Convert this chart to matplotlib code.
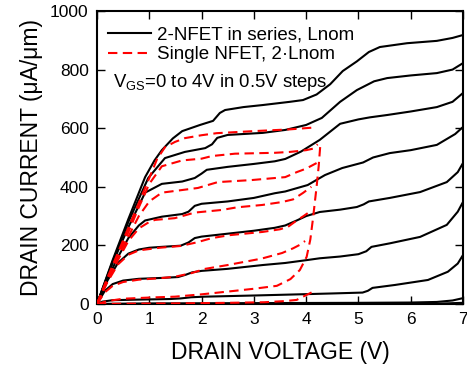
import matplotlib
matplotlib.use("Agg")
import matplotlib.pyplot as plt

plt.rcParams['font.family'] = ['Liberation Sans', 'DejaVu Sans']
plt.rcParams['mathtext.default'] = 'regular'

# ---- data: 2-NFET in series, Lnom (black solid), VGS = 0 .. 4 V ----
c0_v = [0, 6.0, 6.5, 7.0]
c0_i = [0, 0, 1, 4]
c1_v = [0, 1.0, 3.0, 5.0, 6.0, 6.5, 6.8, 7.0]
c1_i = [0, 2, 3, 4, 5, 7, 12, 20]
c2_v = [0, 0.1, 0.3, 0.8, 1.4, 1.6, 1.8, 2.05, 3.0, 3.87, 4.5, 5.08, 5.18, 5.27, 5.7, 6.33, 6.71, 6.9, 7.0]
c2_i = [0, 8, 13, 15, 17, 19, 23, 25, 29, 33, 36, 39, 45, 55, 65, 82, 110, 138, 167]
c3_v = [0, 0.15, 0.3, 0.5, 0.8, 1.24, 1.55, 1.7, 1.82, 2.0, 2.5, 3.17, 3.6, 4.02, 4.26, 4.65, 5.0, 5.15, 5.25, 5.6, 6.18, 6.69, 6.9, 7.0]
c3_i = [0, 45, 68, 80, 86, 89, 92, 100, 108, 113, 120, 133, 140, 150, 156, 162, 170, 180, 195, 207, 229, 270, 315, 348]
c4_v = [0, 0.2, 0.4, 0.6, 0.8, 1.0, 1.24, 1.6, 1.75, 1.87, 2.0, 2.5, 3.0, 3.4, 3.6, 3.82, 4.0, 4.26, 4.65, 4.97, 5.1, 5.2, 5.6, 6.18, 6.69, 6.9, 7.0]
c4_i = [0, 80, 140, 172, 186, 192, 195, 199, 210, 225, 230, 240, 250, 260, 268, 285, 300, 314, 322, 331, 340, 350, 362, 382, 416, 450, 481]
c5_v = [0, 0.2, 0.4, 0.6, 0.8, 0.92, 1.24, 1.63, 1.75, 1.87, 2.0, 2.5, 3.0, 3.4, 3.6, 4.03, 4.36, 4.69, 5.09, 5.28, 5.6, 6.0, 6.5, 6.85, 7.0]
c5_i = [0, 85, 160, 225, 268, 285, 298, 307, 315, 335, 342, 350, 362, 378, 384, 406, 440, 464, 483, 500, 515, 525, 543, 580, 604]
c6_v = [0, 0.3, 0.6, 0.92, 1.24, 1.63, 1.87, 2.0, 2.1, 2.5, 3.0, 3.4, 3.6, 3.9, 4.26, 4.65, 5.0, 5.22, 5.55, 6.0, 6.5, 6.8, 7.0]
c6_i = [0, 140, 262, 380, 410, 418, 430, 445, 458, 468, 478, 487, 495, 520, 560, 615, 630, 637, 645, 657, 672, 690, 720]
c7_v = [0, 0.3, 0.6, 0.98, 1.3, 1.68, 2.07, 2.2, 2.3, 2.5, 3.17, 3.6, 4.0, 4.3, 4.65, 4.97, 5.3, 5.55, 6.0, 6.5, 6.8, 7.0]
c7_i = [0, 145, 280, 430, 498, 519, 532, 545, 567, 577, 584, 594, 611, 635, 690, 730, 760, 771, 780, 788, 800, 822]
c8_v = [0, 0.3, 0.6, 0.92, 1.1, 1.24, 1.45, 1.63, 1.97, 2.22, 2.35, 2.45, 2.8, 3.17, 3.69, 3.94, 4.2, 4.46, 4.7, 4.97, 5.2, 5.41, 5.93, 6.5, 6.8, 7.0]
c8_i = [0, 150, 290, 433, 490, 525, 565, 590, 611, 625, 652, 662, 672, 679, 690, 696, 715, 750, 795, 828, 860, 877, 890, 898, 908, 918]

# ---- data: Single NFET, 2*Lnom (red dashed) ----
r1_v = [0, 0.5, 1.5, 2.5, 3.2, 3.6, 3.82, 3.94, 4.11]
r1_i = [0, 1, 2, 4, 6, 10, 14, 25, 40]
r2_v = [0, 0.2, 0.5, 1.0, 1.49, 2.0, 2.48, 3.0, 3.44, 3.7, 3.88, 4.01, 4.08, 4.13, 4.2, 4.24, 4.27]
r2_i = [0, 10, 18, 22, 25, 33, 42, 52, 62, 85, 116, 161, 220, 290, 400, 470, 540]
r3_v = [0, 0.15, 0.3, 0.5, 0.8, 1.2, 1.49, 1.8, 2.07, 2.5, 3.15, 3.54, 3.75, 3.88, 3.98]
r3_i = [0, 40, 62, 75, 83, 88, 93, 105, 120, 133, 155, 174, 190, 202, 215]
r4_v = [0, 0.2, 0.4, 0.6, 0.8, 1.2, 1.6, 1.9, 2.2, 2.54, 3.17, 3.5, 3.65, 3.82, 3.95, 4.03]
r4_i = [0, 75, 135, 168, 183, 192, 198, 210, 225, 235, 246, 255, 263, 285, 300, 310]
r5_v = [0, 0.2, 0.4, 0.6, 0.8, 1.0, 1.11, 1.49, 1.87, 2.39, 2.68, 3.16, 3.54, 3.75, 3.94, 4.1]
r5_i = [0, 80, 150, 215, 258, 280, 287, 293, 312, 321, 330, 338, 348, 357, 379, 400]
r6_v = [0, 0.2, 0.4, 0.6, 0.8, 1.0, 1.24, 1.63, 1.93, 2.31, 2.96, 3.6, 3.82, 4.0, 4.2]
r6_i = [0, 80, 155, 230, 300, 350, 380, 389, 396, 416, 423, 433, 450, 462, 481]
r7_v = [0, 0.2, 0.4, 0.6, 0.8, 1.0, 1.24, 1.63, 2.0, 2.2, 2.64, 3.4, 3.69, 4.0, 4.13, 4.22]
r7_i = [0, 85, 165, 245, 330, 410, 470, 490, 496, 505, 513, 516, 519, 525, 530, 545]
r8_v = [0, 0.2, 0.4, 0.6, 0.8, 1.0, 1.15, 1.3, 1.49, 1.68, 2.0, 2.29, 3.0, 3.69, 4.13]
r8_i = [0, 90, 175, 260, 345, 430, 495, 535, 553, 566, 576, 583, 590, 596, 602]

black = [(c0_v, c0_i), (c1_v, c1_i), (c2_v, c2_i), (c3_v, c3_i), (c4_v, c4_i),
         (c5_v, c5_i), (c6_v, c6_i), (c7_v, c7_i), (c8_v, c8_i)]
red = [(r1_v, r1_i), (r2_v, r2_i), (r3_v, r3_i), (r4_v, r4_i),
       (r5_v, r5_i), (r6_v, r6_i), (r7_v, r7_i), (r8_v, r8_i)]

x_ticks = [0, 1, 2, 3, 4, 5, 6, 7]
y_ticks = [0, 200, 400, 600, 800, 1000]

fig = plt.figure(figsize=(4.67, 3.66), dpi=100)
ax = fig.add_axes([0.2077, 0.1694, 0.7837, 0.8006])

for k, (v, i) in enumerate(red):
    ax.plot(v, i, color='#ff0000', lw=1.5, dashes=(4.5, 2.6),
            solid_joinstyle='round', dash_joinstyle='round',
            label='Single NFET, 2\u00b7Lnom' if k == 0 else None, zorder=3)
for k, (v, i) in enumerate(black):
    ax.plot(v, i, color='black', lw=1.5, solid_joinstyle='round',
            label='2-NFET in series, Lnom' if k == 0 else None, zorder=2)

ax.set_xlim(0, 7)
ax.set_ylim(0, 1000)
ax.set_xticks(x_ticks)
ax.set_yticks(y_ticks)
ax.tick_params(direction='in', length=6, width=1, labelsize=12.5,
               top=True, right=True, pad=6)
for s in ax.spines.values():
    s.set_linewidth(1.5)

ax.set_xlabel('DRAIN VOLTAGE (V)', fontsize=16.5, labelpad=10)
ax.set_ylabel('DRAIN CURRENT (\u03bcA/\u03bcm)', fontsize=16.5, labelpad=5)

handles, labels = ax.get_legend_handles_labels()
order = [1, 0]
ax.legend([handles[j] for j in order], [labels[j] for j in order],
          loc='upper left', bbox_to_anchor=(0.0, 0.985), frameon=False,
          fontsize=13.5, handlelength=2.3, handletextpad=0.3,
          labelspacing=0.12, borderaxespad=0.2)

ax.text(0.044, 0.755, r'$V_{GS}$=0 to 4V in 0.5V steps', transform=ax.transAxes,
        fontsize=13.3, va='center', ha='left')

fig.savefig('out.png', dpi=100)
